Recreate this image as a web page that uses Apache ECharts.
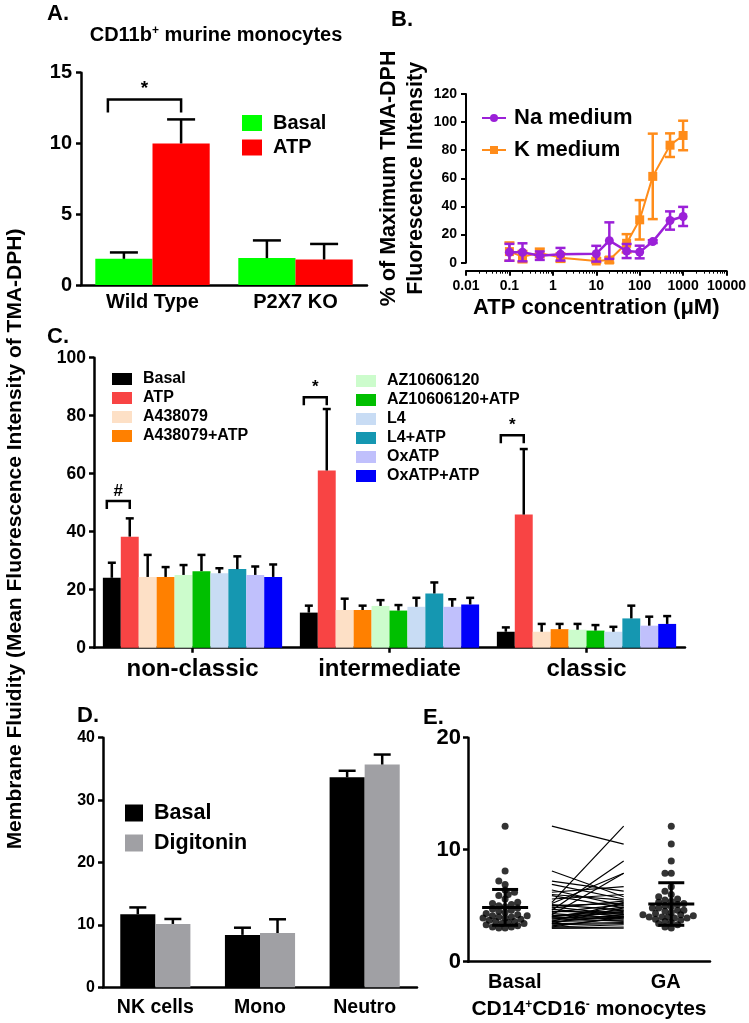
<!DOCTYPE html>
<html><head><meta charset="utf-8">
<script src="https://cdn.jsdelivr.net/npm/echarts@6/dist/echarts.min.js"></script>
<style>html,body{margin:0;padding:0;background:#fff}#c{width:749px;height:1023px}</style>
</head><body><div id="c"></div>
<script>
// ================= DATA =================
// Panel A
const aCategories = ['Wild Type', 'P2X7 KO'];
const aBasal = [1.85, 1.9];
const aBasalErr = [0.45, 1.25];
const aATP = [10.0, 1.8];
const aATPErr = [1.7, 1.1];
const aSigCat = [0];
const aSigY = [13.1];
const aSigLabel = ['*'];

// Panel B
const bConc = [0.1, 0.2, 0.5, 1.5, 10, 20, 50, 100, 200, 500, 1000];
const bNa = [7.4, 7.4, 5, 6, 6.4, 15.7, 8.3, 7.6, 15, 30, 32.9];
const bNaErr = [6, 6.4, 3, 4.5, 5.6, 13, 5, 4.5, 1, 6.5, 6.8];
const bK = [7.9, 4.3, 7, 3.6, 1.2, 1.9, 13.8, 30.5, 61.4, 83.6, 90.5];
const bKErr = [6.5, 4, 3, 3, 2, 2, 6.5, 14, 30.4, 8.4, 10.5];

// Panel C
const cCategories = ['non-classic', 'intermediate', 'classic'];
const cNames = ['Basal', 'ATP', 'A438079', 'A438079+ATP', 'AZ10606120', 'AZ10606120+ATP', 'L4', 'L4+ATP', 'OxATP', 'OxATP+ATP'];
const cBasal = [24.1, 12.1, 5.5];            const cBasalErr = [5.2, 2.4, 1.5];
const cATP = [38.3, 61.1, 45.9];             const cATPErr = [6.3, 21.2, 22.6];
const cA438 = [24.4, 13.0, 5.5];             const cA438Err = [7.6, 3.9, 2.7];
const cA438ATP = [24.4, 13.0, 6.4];          const cA438ATPErr = [3.4, 1.5, 1.8];
const cAZ = [25.1, 14.4, 6.2];               const cAZErr = [3.4, 2.0, 2.0];
const cAZATP = [26.4, 12.8, 5.9];            const cAZATPErr = [5.6, 1.9, 1.9];
const cL4 = [25.7, 14.1, 5.5];               const cL4Err = [1.7, 3.1, 1.7];
const cL4ATP = [27.1, 18.7, 10.1];           const cL4ATPErr = [4.4, 3.8, 4.4];
const cOx = [25.1, 14.1, 7.6];               const cOxErr = [2.9, 2.6, 3.1];
const cOxATP = [24.4, 14.9, 8.2];            const cOxATPErr = [4.3, 2.3, 2.7];
const cSigCat = [0, 1, 2];
const cSigY = [50.6, 86.4, 73.3];
const cSigLabel = ['#', '*', '*'];

// Panel D
const dCategories = ['NK cells', 'Mono', 'Neutro'];
const dBasal = [11.7, 8.4, 33.65];
const dBasalErr = [1.1, 1.15, 1.05];
const dDig = [10.15, 8.7, 35.7];
const dDigErr = [0.8, 2.2, 1.6];

// Panel E (paired donors: Basal vs GA)
const eBasal = [12.1, 8.1, 7.2, 6.9, 6.4, 6.2, 6.0, 5.9, 5.6, 5.3, 5.2, 5.1, 5.0, 4.9, 4.8, 4.7, 4.6, 4.5, 4.4, 4.3,
                4.2, 4.1, 4.1, 4.0, 4.0, 3.9, 3.9, 3.8, 3.7, 3.6, 3.6, 3.5, 3.4, 3.4, 3.3, 3.2, 3.1, 3.1, 3.0, 3.0];
const eGA    = [10.5, 5.8, 6.3, 5.6, 5.0, 6.7, 5.5, 4.8, 6.0, 12.1, 7.9, 4.6, 5.2, 4.2, 5.4, 4.0, 9.0, 4.4, 5.1, 3.9,
                7.9, 4.3, 4.6, 3.8, 4.9, 4.1, 3.6, 4.5, 4.0, 5.3, 3.7, 4.2, 3.5, 4.8, 3.4, 3.9, 3.3, 4.0, 3.1, 3.0];
const eMean = [4.85, 5.15];
const eSD = [1.6, 1.9];
const eLabels = ['Basal', 'GA'];

// ================= STYLE / LAYOUT =================
const FONT = '"Liberation Sans", Arial, Helvetica, sans-serif';
const cColors = ['#000000', '#f84444', '#fde0c6', '#ff8000', '#ccfccc', '#00bf00', '#c8dcf4', '#1597b1', '#c0c0fc', '#0000fa'];
const cValues = [cBasal, cATP, cA438, cA438ATP, cAZ, cAZATP, cL4, cL4ATP, cOx, cOxATP];
const cErrors = [cBasalErr, cATPErr, cA438Err, cA438ATPErr, cAZErr, cAZATPErr, cL4Err, cL4ATPErr, cOxErr, cOxATPErr];

const G = {
  A: {left: 81, top: 72.7, width: 286, height: 212.3},
  B: {left: 466, top: 94, width: 264, height: 168.7},
  C: {left: 94, top: 357.7, width: 591, height: 290},
  D: {left: 103, top: 737.7, width: 314, height: 249.6},
  E: {left: 468, top: 737.7, width: 242, height: 224}
};
const E_XMAX = 3, E_YMAX = 20;
const ePos = [0.46, 2.52];      // group centres on E's x scale
const eLinePos = [1.04, 1.93];  // paired lines span
const eLabelPos = [0.58, 2.45];

function txt(size, extra) { return Object.assign({color: '#000', fontSize: size, fontWeight: 'bold', fontFamily: FONT}, extra || {}); }

function yAx(gi, min, max, interval, size, margin, lw) {
  return {type: 'value', gridIndex: gi, min: min, max: max, interval: interval, splitLine: {show: false},
    axisLine: {show: true, onZero: false, lineStyle: {color: '#000', width: lw || 2.5}},
    axisTick: {show: true, length: 5, lineStyle: {color: '#000', width: lw || 2.5}},
    axisLabel: txt(size, {margin: margin})};
}
function catAx(gi, data, size, margin, ticks) {
  return {type: 'category', gridIndex: gi, data: data,
    axisLine: {show: true, onZero: false, lineStyle: {color: '#000', width: 2.5}},
    axisTick: {show: !!ticks, alignWithLabel: true, interval: 0, length: 5, lineStyle: {color: '#000', width: 2.5}},
    axisLabel: txt(size, {margin: margin, interval: 0})};
}

// error bars for grouped bars (upper only)
function barErr(gi, n, gap, si, vals, errs, capW, lw) {
  return {type: 'custom', xAxisIndex: gi, yAxisIndex: gi, z: 4, silent: true,
    data: vals.map((v, i) => [i, v, errs[i]]),
    renderItem: function (params, api) {
      const i = api.value(0), v = api.value(1), e = api.value(2);
      const band = api.size([1, 0])[0];
      const gw = band * (1 - gap), bw = gw / n;
      const cx = api.coord([i, 0])[0] - gw / 2 + bw * (si + 0.5);
      const y0 = api.coord([i, v])[1], y1 = api.coord([i, v + e])[1];
      const st = {stroke: '#000', lineWidth: lw, lineCap: 'butt'};
      return {type: 'group', children: [
        {type: 'line', shape: {x1: cx, y1: y0, x2: cx, y2: y1}, style: st},
        {type: 'line', shape: {x1: cx - capW / 2, y1: y1, x2: cx + capW / 2, y2: y1}, style: st}
      ]};
    }};
}
// significance bracket between bar 0 and bar 1 of a category
function bracket(gi, n, gap, cats, ys, labels, leg, lw, fs) {
  return {type: 'custom', xAxisIndex: gi, yAxisIndex: gi, z: 6, silent: true,
    data: cats.map((c, i) => [c, ys[i]]),
    renderItem: function (params, api) {
      const i = api.value(0), y = api.value(1);
      const band = api.size([1, 0])[0];
      const gw = band * (1 - gap), bw = gw / n;
      const x0 = api.coord([i, 0])[0] - gw / 2;
      const xl = x0 + bw * 0.5 - bw * 0.28, xr = x0 + bw * 1.5;
      const py = api.coord([i, y])[1];
      const st = {stroke: '#000', lineWidth: lw, fill: null};
      return {type: 'group', children: [
        {type: 'polyline', shape: {points: [[xl, py + leg], [xl, py], [xr, py], [xr, py + leg]]}, style: st},
        {type: 'text', x: (xl + xr) / 2, y: py - 1, style: Object.assign({text: labels[params.dataIndex], align: 'center', verticalAlign: 'bottom'}, txt(fs), {fill: '#000'})}
      ]};
    }};
}
// symmetric error bars for point series (panel B)
function ptErr(xs, ys, errs, color) {
  return {type: 'custom', xAxisIndex: 1, yAxisIndex: 1, z: 3, silent: true,
    data: xs.map((x, i) => [x, ys[i], errs[i]]),
    renderItem: function (params, api) {
      const x = api.value(0), y = api.value(1), e = api.value(2);
      const p = api.coord([x, y]);
      const top = api.coord([x, y + e])[1], bot = api.coord([x, Math.max(y - e, 0.0001)])[1];
      const st = {stroke: color, lineWidth: 2.5};
      const cw = 5;
      return {type: 'group', children: [
        {type: 'line', shape: {x1: p[0], y1: top, x2: p[0], y2: bot}, style: st},
        {type: 'line', shape: {x1: p[0] - cw, y1: top, x2: p[0] + cw, y2: top}, style: st},
        {type: 'line', shape: {x1: p[0] - cw, y1: bot, x2: p[0] + cw, y2: bot}, style: st}
      ]};
    }};
}
// beeswarm layout of dots around a centre (pixel-space collision, partial overlap allowed)
function beeswarm(vals, center, d) {
  const pxX = G.E.width / E_XMAX, pxY = G.E.height / E_YMAX;
  const order = vals.map((v, i) => i).sort((a, b) => vals[a] - vals[b]);
  const placed = [], out = new Array(vals.length);
  order.forEach(function (i) {
    const py = vals[i] * pxY;
    let off = 0;
    for (let k = 0; k < 60; k++) {
      const cand = (k % 2 === 0 ? 1 : -1) * Math.ceil(k / 2) * d * 0.45;
      if (placed.every(p => Math.hypot(p.x - cand, p.y - py) >= d * 0.72)) { off = cand; break; }
    }
    placed.push({x: off, y: py});
    out[i] = [center + off / pxX, vals[i]];
  });
  return out;
}

// ================= OPTION =================
const series = [];
// A
series.push({type: 'bar', name: 'A|Basal', xAxisIndex: 0, yAxisIndex: 0, data: aBasal, itemStyle: {color: '#00ff00'}, barGap: '0%', barCategoryGap: '20%'});
series.push({type: 'bar', name: 'A|ATP', xAxisIndex: 0, yAxisIndex: 0, data: aATP, itemStyle: {color: '#ff0000'}, barGap: '0%', barCategoryGap: '20%'});
series.push(barErr(0, 2, 0.2, 0, aBasal, aBasalErr, 28, 2.5));
series.push(barErr(0, 2, 0.2, 1, aATP, aATPErr, 28, 2.5));
series.push(bracket(0, 2, 0.2, aSigCat, aSigY, aSigLabel, 13, 2.5, 19));
// B
series.push({type: 'line', name: 'K medium', xAxisIndex: 1, yAxisIndex: 1, z: 3, data: bConc.map((x, i) => [x, bK[i]]),
  symbol: 'rect', symbolSize: 9, itemStyle: {color: '#ff8c1a'}, lineStyle: {color: '#ff8c1a', width: 2}});
series.push(ptErr(bConc, bK, bKErr, '#ff8c1a'));
series.push({type: 'line', name: 'Na medium', xAxisIndex: 1, yAxisIndex: 1, z: 5, data: bConc.map((x, i) => [x, bNa[i]]),
  symbol: 'circle', symbolSize: 9, itemStyle: {color: '#9b20d8'}, lineStyle: {color: '#9b20d8', width: 2.5}});
series.push(Object.assign(ptErr(bConc, bNa, bNaErr, '#9b20d8'), {z: 5}));
// C
cNames.forEach(function (nm, si) {
  series.push({type: 'bar', name: 'C|' + nm, xAxisIndex: 2, yAxisIndex: 2, data: cValues[si], itemStyle: {color: cColors[si]}, barGap: '0%', barCategoryGap: '9%'});
  series.push(barErr(2, 10, 0.09, si, cValues[si], cErrors[si], 8, 2.5));
});
series.push(bracket(2, 10, 0.09, cSigCat, cSigY, cSigLabel, 8, 2.5, 17));
// D
series.push({type: 'bar', name: 'D|Basal', xAxisIndex: 3, yAxisIndex: 3, data: dBasal, itemStyle: {color: '#000000'}, barGap: '0%', barCategoryGap: '33%'});
series.push({type: 'bar', name: 'D|Digitonin', xAxisIndex: 3, yAxisIndex: 3, data: dDig, itemStyle: {color: '#a0a0a4'}, barGap: '0%', barCategoryGap: '33%'});
series.push(barErr(3, 2, 0.33, 0, dBasal, dBasalErr, 17, 2.5));
series.push(barErr(3, 2, 0.33, 1, dDig, dDigErr, 17, 2.5));
// E
series.push({type: 'custom', name: 'E|pairs', xAxisIndex: 4, yAxisIndex: 4, silent: true, z: 2,
  data: eBasal.map((b, i) => [b, eGA[i]]),
  renderItem: function (params, api) {
    const p0 = api.coord([eLinePos[0], api.value(0)]), p1 = api.coord([eLinePos[1], api.value(1)]);
    return {type: 'line', shape: {x1: p0[0], y1: p0[1], x2: p1[0], y2: p1[1]}, style: {stroke: '#000', lineWidth: 1.2}};
  }});
series.push({type: 'scatter', name: 'E|Basal', xAxisIndex: 4, yAxisIndex: 4, data: beeswarm(eBasal, ePos[0], 7), symbolSize: 7, itemStyle: {color: '#000'}});
series.push({type: 'scatter', name: 'E|GA', xAxisIndex: 4, yAxisIndex: 4, data: beeswarm(eGA, ePos[1], 7), symbolSize: 7, itemStyle: {color: '#000'}});
series.push({type: 'custom', name: 'E|meanSD', xAxisIndex: 4, yAxisIndex: 4, silent: true, z: 5,
  data: eMean.map((m, i) => [ePos[i], m, eSD[i]]),
  renderItem: function (params, api) {
    const x = api.value(0), m = api.value(1), s = api.value(2);
    const pm = api.coord([x, m]), yt = api.coord([x, m + s])[1], yb = api.coord([x, m - s])[1];
    const st = {stroke: '#000', lineWidth: 3};
    return {type: 'group', children: [
      {type: 'line', shape: {x1: pm[0] - 23, y1: pm[1], x2: pm[0] + 23, y2: pm[1]}, style: st},
      {type: 'line', shape: {x1: pm[0], y1: yt, x2: pm[0], y2: yb}, style: st},
      {type: 'line', shape: {x1: pm[0] - 13, y1: yt, x2: pm[0] + 13, y2: yt}, style: st},
      {type: 'line', shape: {x1: pm[0] - 13, y1: yb, x2: pm[0] + 13, y2: yb}, style: st}
    ]};
  }});

const stripName = n => n.replace(/^[A-Z]\|/, '');
const legendBase = {selectedMode: false, orient: 'vertical', icon: 'rect', padding: 0, formatter: stripName};

const option = {
  animation: false,
  backgroundColor: '#fff',
  grid: [G.A, G.B, G.C, G.D, G.E].map(g => Object.assign({containLabel: false}, g)),
  xAxis: [
    catAx(0, aCategories, 20, 7, false),
    {type: 'log', logBase: 10, gridIndex: 1, min: 0.01, max: 10000, offset: 8,
      axisLine: {show: true, onZero: false, lineStyle: {color: '#000', width: 2}},
      axisTick: {show: true, length: 5, lineStyle: {color: '#000', width: 2}},
      minorTick: {show: true, splitNumber: 9, length: 3, lineStyle: {color: '#000', width: 1}},
      splitLine: {show: false},
      axisLabel: txt(14, {margin: 8, formatter: v => String(+(+v).toPrecision(6))}),
      name: 'ATP concentration (\u03bcM)', nameLocation: 'middle', nameGap: 26, nameTextStyle: txt(22)},
    catAx(2, cCategories, 24, 10, true),
    catAx(3, dCategories, 19.5, 10, false),
    {type: 'value', gridIndex: 4, min: 0, max: E_XMAX, splitLine: {show: false},
      axisLine: {show: true, onZero: false, lineStyle: {color: '#000', width: 2.5}},
      axisTick: {show: false},
      axisLabel: txt(20, {margin: 11, customValues: eLabelPos, formatter: v => (v < E_XMAX / 2 ? eLabels[0] : eLabels[1])}),
      name: 'CD14{s|+}CD16{s|-} monocytes', nameLocation: 'middle', nameGap: 37,
      nameTextStyle: txt(21, {rich: {s: txt(12, {verticalAlign: 'top', padding: [0, 0, 9, 0]})}})}
  ],
  yAxis: [
    yAx(0, 0, 15, 5, 20, 9),
    Object.assign(yAx(1, 0, 120, 20, 14, 9, 2), {name: '% of Maximum TMA-DPH\nFluorescence Intensity', nameLocation: 'middle', nameGap: 27, nameRotate: 90, nameTextStyle: txt(21.5, {lineHeight: 27})}),
    yAx(2, 0, 100, 20, 17.5, 8),
    yAx(3, 0, 40, 10, 16, 8),
    yAx(4, 0, E_YMAX, 10, 22, 7)
  ],
  legend: [
    Object.assign({}, legendBase, {left: 242, top: 113, data: ['A|Basal', 'A|ATP'], itemWidth: 20, itemHeight: 16, itemGap: 4.5, textStyle: txt(20, {padding: [0, 0, 0, 6]})}),
    Object.assign({}, legendBase, {icon: null, left: 481, top: 107, data: ['Na medium', 'K medium'], itemWidth: 24, itemHeight: 10, itemGap: 10, textStyle: txt(22, {padding: [0, 0, 0, 3]})}),
    Object.assign({}, legendBase, {left: 112, top: 371, data: cNames.slice(0, 4).map(n => 'C|' + n), itemWidth: 20, itemHeight: 12, itemGap: 3, textStyle: txt(16, {padding: [0, 0, 0, 6]})}),
    Object.assign({}, legendBase, {left: 356, top: 373, data: cNames.slice(4).map(n => 'C|' + n), itemWidth: 20, itemHeight: 12, itemGap: 3, textStyle: txt(16, {padding: [0, 0, 0, 6]})}),
    Object.assign({}, legendBase, {left: 125, top: 802, data: ['D|Basal', 'D|Digitonin'], itemWidth: 18, itemHeight: 17, itemGap: 8, textStyle: txt(21.5, {padding: [0, 0, 0, 6]})})
  ],
  graphic: [
    {type: 'text', left: 47, top: 3, style: Object.assign({text: 'A.'}, txt(22), {fill: '#000'})},
    {type: 'text', left: 391, top: 9, style: Object.assign({text: 'B.'}, txt(22), {fill: '#000'})},
    {type: 'text', left: 47, top: 326, style: Object.assign({text: 'C.'}, txt(22), {fill: '#000'})},
    {type: 'text', left: 77, top: 705, style: Object.assign({text: 'D.'}, txt(22), {fill: '#000'})},
    {type: 'text', left: 423, top: 707, style: Object.assign({text: 'E.'}, txt(22), {fill: '#000'})},
    {type: 'text', x: 216, y: 35, style: Object.assign({text: 'CD11b{s|+} murine monocytes', align: 'center', verticalAlign: 'middle',
      rich: {s: txt(12, {verticalAlign: 'top', padding: [0, 0, 9, 0]})}}, txt(20), {fill: '#000'})},
    {type: 'text', x: 15, y: 539, rotation: Math.PI / 2, style: Object.assign({text: 'Membrane Fluidity (Mean Fluorescence Intensity of TMA-DPH)', align: 'center', verticalAlign: 'middle'}, txt(21), {fill: '#000'})}
  ],
  series: series
};

const chart = echarts.init(document.getElementById('c'), null, {renderer: 'canvas'});
chart.setOption(option);
</script>
</body></html>
